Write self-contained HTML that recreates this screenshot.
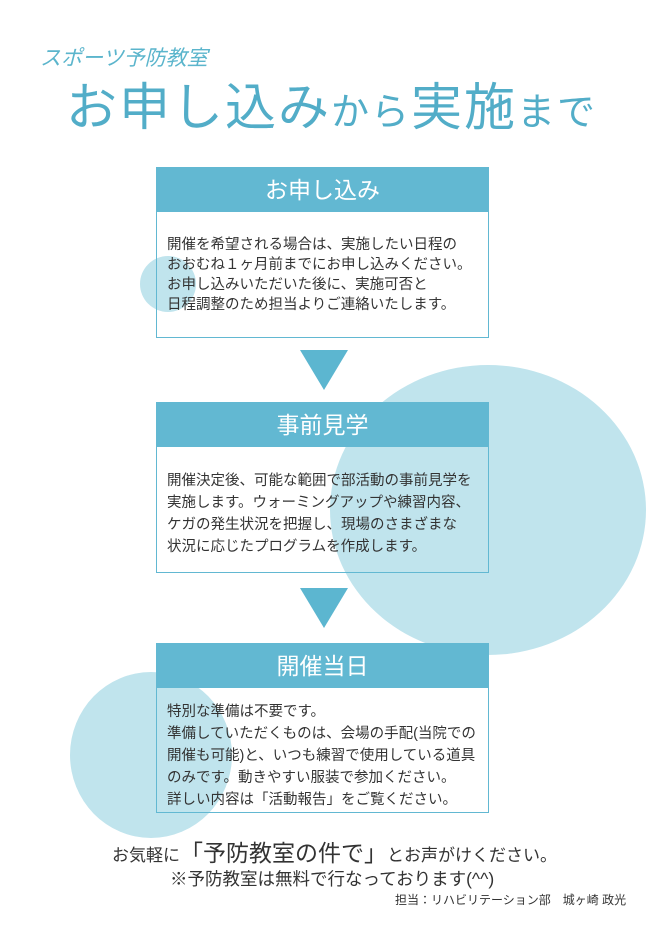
<!DOCTYPE html>
<html><head><meta charset="utf-8"><style>
body{margin:0;width:660px;height:934px;background:#fff;position:relative;overflow:hidden;font-family:"Liberation Sans","Noto Sans CJK JP",sans-serif;color:#333}
.c{position:absolute;background:#c0e4ed;border-radius:50%}
.a{position:absolute;white-space:nowrap}
.box{position:absolute;left:156px;width:331px;border:1.5px solid #62b8d2;}
.hd{background:#62b8d2;color:#fff;font-size:23px;text-align:center;height:44px;line-height:44px}
.bd{font-size:14.5px;line-height:22px;padding-left:10px}
.tri{position:absolute;left:300px;width:0;height:0;border-left:24px solid transparent;border-right:24px solid transparent;border-top:40px solid #5cb6d0}
</style></head><body>
<div class="c" style="left:140px;top:256px;width:56px;height:56px"></div>
<div class="c" style="left:330px;top:365px;width:316px;height:290px"></div>
<div class="c" style="left:70px;top:672px;width:162px;height:166px"></div>

<div class="a" style="left:40px;top:42px;font-size:21px;color:#5bb5cc;font-style:italic">スポーツ予防教室</div>
<div class="a" style="left:66px;top:78px;color:#52adc8;font-size:51px;line-height:60px;letter-spacing:2px">お申し込み<span style="font-size:38px">から</span>実施<span style="font-size:38px">まで</span></div>

<div class="box" style="top:167px;height:169px"><div class="hd">お申し込み</div>
<div class="bd" style="padding-top:23px;line-height:20px">開催を希望される場合は、実施したい日程の<br>おおむね１ヶ月前までにお申し込みください。<br>お申し込みいただいた後に、実施可否と<br>日程調整のため担当よりご連絡いたします。</div></div>
<div class="tri" style="top:350px"></div>

<div class="box" style="top:402px;height:169px"><div class="hd">事前見学</div>
<div class="bd" style="padding-top:23px">開催決定後、可能な範囲で部活動の事前見学を<br>実施します。ウォーミングアップや練習内容、<br>ケガの発生状況を把握し、現場のさまざまな<br>状況に応じたプログラムを作成します。</div></div>
<div class="tri" style="top:588px"></div>

<div class="box" style="top:643px;height:168px"><div class="hd">開催当日</div>
<div class="bd" style="padding-top:13px">特別な準備は不要です。<br>準備していただくものは、会場の手配(当院での<br>開催も可能)と、いつも練習で使用している道具<br>のみです。動きやすい服装で参加ください。<br>詳しい内容は「活動報告」をご覧ください。</div></div>

<div class="a" style="left:112px;top:838px;font-size:17px;line-height:30px">お気軽に<span style="font-size:23px">「予防教室の件で」</span>とお声がけください。</div>
<div class="a" style="left:170px;top:866px;font-size:17.5px">※予防教室は無料で行なっております(^^)</div>
<div class="a" style="left:395px;top:891px;font-size:12px">担当：リハビリテーション部　城ヶ崎 政光</div>
</body></html>
